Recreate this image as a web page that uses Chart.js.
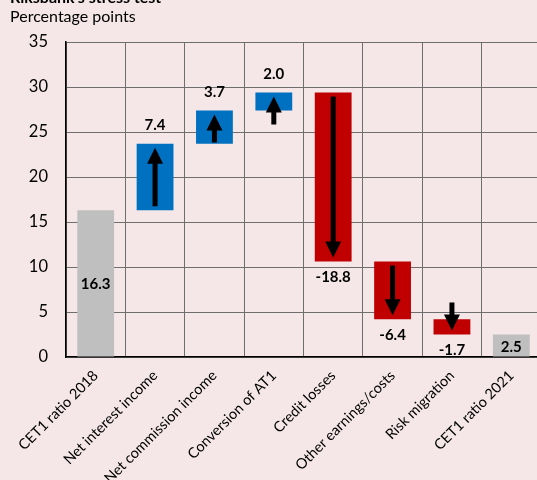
<!DOCTYPE html>
<html>
<head>
<meta charset="utf-8">
<script src="https://cdn.jsdelivr.net/npm/chart.js@4.4.1/dist/chart.umd.min.js"></script>
<style>
  html, body { margin: 0; padding: 0; background: #f5e7e8; overflow: hidden; }
  #wrap { width: 537px; height: 480px; overflow: hidden; }
  canvas { display: block; }
</style>
</head>
<body>
<div id="wrap"><canvas id="chart" width="541" height="480"></canvas></div>
<script>
let titleText = "Riksbank\u2019s stress test";
let unitText = "Percentage points";

let categories = ["CET1 ratio 2018", "Net interest income", "Net commission income",
	"Conversion of AT1", "Credit losses", "Other earnings/costs", "Risk migration", "CET1 ratio 2021"];
let changes = [16.3, 7.4, 3.7, 2.0, -18.8, -6.4, -1.7, 2.5];
let yMin = 0, yMax = 35, yStep = 5;

let GREY = "#bfbfbf", BLUE = "#0070c0", RED = "#c00000";
let FONT = "Lato, 'Liberation Sans', sans-serif";

// first and last are totals, the rest are steps on top of the running level
let level = 0;
let ranges = changes.map(function(v, i) {
	if (i === 0 || i === changes.length - 1) { level = v; return [0, v]; }
	let r = [level, level + v];
	level += v;
	return r;
});
let isTotal = changes.map(function(v, i) { return i === 0 || i === changes.length - 1; });
let colors = changes.map(function(v, i) { return isTotal[i] ? GREY : (v > 0 ? BLUE : RED); });

let textPlugin = {
	id: "texts",
	afterDraw: function(chart) {
		let ctx = chart.ctx;
		ctx.save();
		ctx.fillStyle = "#000";
		ctx.textAlign = "left";
		ctx.textBaseline = "alphabetic";
		ctx.font = "bold 16px " + FONT;
		ctx.fillText(titleText, 10, 3);
		ctx.font = "16px " + FONT;
		ctx.fillText(unitText, 10, 22);
		ctx.restore();
	}
};

let arrowPlugin = {
	id: "arrows",
	afterDatasetsDraw: function(chart) {
		let ctx = chart.ctx;
		let meta = chart.getDatasetMeta(0);
		let ys = chart.scales.y;
		ctx.save();
		meta.data.forEach(function(bar, i) {
			let v = changes[i];
			let startPx = ys.getPixelForValue(ranges[i][0]);
			let endPx = ys.getPixelForValue(ranges[i][1]);
			let top = Math.min(startPx, endPx), bottom = Math.max(startPx, endPx);
			ctx.fillStyle = "#000";
			ctx.font = "bold 15px " + FONT;
			ctx.textAlign = "center";
			if (isTotal[i]) {
				ctx.textBaseline = "middle";
				ctx.fillText(v.toFixed(1), bar.x, (top + bottom) / 2 + 1);
				return;
			}
			if (v > 0) {
				ctx.textBaseline = "bottom";
				ctx.fillText(v.toFixed(1), bar.x, top - 11);
			} else {
				ctx.textBaseline = "top";
				ctx.fillText(v.toFixed(1), bar.x, bottom + 8);
			}
			// arrow: tip near the end value, tail toward the start
			let dir = v > 0 ? -1 : 1;
			let tip = endPx - dir * 4;
			let len = Math.max(Math.abs(endPx - startPx) - 8, 28);
			let tail = tip - dir * len;
			let head = 16, hw = 8, sw = 2.5;
			let neck = tip - dir * head;
			ctx.beginPath();
			ctx.moveTo(bar.x - sw, tail);
			ctx.lineTo(bar.x - sw, neck);
			ctx.lineTo(bar.x - hw, neck);
			ctx.lineTo(bar.x, tip);
			ctx.lineTo(bar.x + hw, neck);
			ctx.lineTo(bar.x + sw, neck);
			ctx.lineTo(bar.x + sw, tail);
			ctx.closePath();
			ctx.fill();
		});
		ctx.restore();
	}
};

new Chart(document.getElementById("chart"), {
	type: "bar",
	data: {
		labels: categories,
		datasets: [{
			data: ranges,
			backgroundColor: colors,
			borderWidth: 0,
			barPercentage: 0.62,
			categoryPercentage: 1
		}]
	},
	options: {
		responsive: false,
		animation: false,
		layout: { padding: { top: 42, left: 0, right: 0, bottom: 0 } },
		plugins: { legend: { display: false }, tooltip: { enabled: false } },
		scales: {
			x: {
				grid: { color: "#6e6e6e", lineWidth: 1, drawTicks: false, offset: true },
				border: { color: "#000", width: 1.5 },
				ticks: { color: "#000", font: { family: FONT, size: 14.5 }, minRotation: 45, maxRotation: 45, padding: 10, autoSkip: false },
				afterFit: function(scale) { scale.height = 123; }
			},
			y: {
				min: yMin, max: yMax,
				grid: { color: "#6e6e6e", lineWidth: 1, drawTicks: false },
				border: { color: "#000", width: 1.5 },
				ticks: { stepSize: yStep, color: "#000", font: { family: FONT, size: 16.5 }, padding: 18 },
				afterFit: function(scale) { scale.width = 66; }
			}
		}
	},
	plugins: [arrowPlugin, textPlugin]
});
</script>
</body>
</html>
